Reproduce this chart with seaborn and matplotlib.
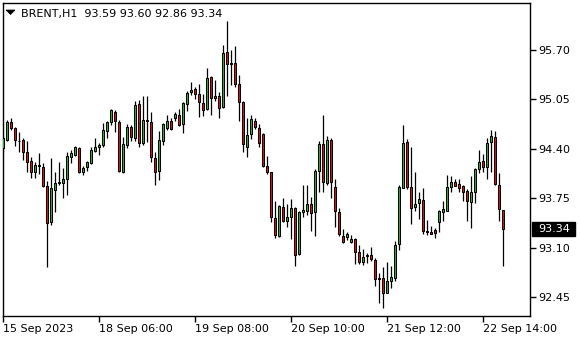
import numpy as np
import pandas as pd
import matplotlib
matplotlib.use("Agg")
import matplotlib.pyplot as plt
from matplotlib.patches import Polygon, Rectangle
import seaborn as sns

# ---------------- data (BRENT, H1) ----------------
opens = [94.41,94.52,94.75,94.67,94.51,94.52,94.36,94.24,94.09,94.19,
         94.16,93.91,93.44,93.86,93.95,93.95,94.00,94.29,94.32,94.41,
         94.09,94.16,94.21,94.37,94.42,94.45,94.63,94.75,94.88,94.75,
         94.09,94.45,94.69,94.54,94.99,94.48,94.78,94.75,94.28,94.11,
         94.50,94.67,94.77,94.81,94.85,94.73,94.99,95.15,95.19,95.12,
         95.00,94.92,95.35,95.07,95.09,94.95,95.67,95.52,95.53,95.25,
         95.02,94.42,94.60,94.77,94.67,94.60,94.18,94.09,93.49,93.25,
         93.63,93.45,93.50,93.62,93.02,93.57,93.58,93.67,93.57,94.11,
         94.46,93.95,94.52,93.90,93.57,93.25,93.24,93.17,93.21,93.04,
         92.91,92.99,93.00,92.94,92.70,92.70,92.50,92.66,92.70,93.15,
         93.88,94.49,93.90,93.63,93.69,93.73,93.32,93.30,93.33,93.44,
         93.57,93.58,93.90,93.96,93.94,93.91,93.85,93.70,93.83,94.14,
         94.24,94.16,94.49,94.56,93.92,93.59]
highs = [94.57,94.78,94.81,94.69,94.62,94.54,94.50,94.29,94.23,94.35,
         94.21,93.98,94.28,94.09,94.23,94.15,94.36,94.38,94.44,94.42,
         94.18,94.24,94.42,94.54,94.48,94.74,94.77,94.92,94.91,94.78,
         94.56,94.73,94.71,95.03,95.04,95.09,95.09,94.88,94.36,94.63,
         94.74,94.85,94.81,94.88,94.92,95.02,95.16,95.28,95.21,95.25,
         95.12,95.46,95.36,95.31,95.15,95.77,96.08,95.70,95.75,95.37,
         95.03,94.81,94.85,94.81,94.73,94.61,94.31,94.10,93.71,93.66,
         93.75,93.67,93.74,93.63,93.58,93.92,93.92,93.77,94.14,94.50,
         94.85,94.57,94.54,94.00,93.62,93.34,93.31,93.27,93.23,93.14,
         93.08,93.03,93.11,92.96,92.77,92.84,92.91,92.86,93.19,93.92,
         94.71,94.53,94.42,94.09,93.83,93.88,93.46,93.38,93.36,93.59,
         93.71,94.06,94.04,94.00,94.00,93.92,93.87,94.04,94.15,94.38,
         94.33,94.54,94.65,94.63,94.08,93.60]
lows = [94.36,94.50,94.65,94.44,94.36,94.25,94.09,94.02,94.02,94.07,
        93.90,92.84,93.40,93.57,93.92,93.75,93.79,94.21,94.31,94.08,
        94.06,94.11,94.20,94.36,94.32,94.42,94.54,94.71,94.62,94.09,
        94.08,94.41,94.50,94.50,94.42,94.45,94.49,94.23,93.92,93.99,
        94.45,94.65,94.65,94.77,94.70,94.61,94.90,95.11,95.06,94.82,
        94.83,94.91,94.85,95.03,94.81,94.94,95.09,95.24,95.22,94.77,
        94.36,94.29,94.53,94.66,94.42,94.16,94.07,93.44,93.23,93.24,
        93.44,93.37,93.21,92.86,93.00,93.50,93.53,93.32,93.25,93.83,
        93.83,93.92,93.75,93.37,93.25,93.16,93.20,93.16,92.88,92.88,
        92.87,92.90,92.92,92.59,92.37,92.31,92.50,92.57,92.66,93.07,
        93.88,93.87,93.41,93.58,93.48,93.28,93.27,93.28,93.23,93.31,
        93.45,93.58,93.83,93.91,93.83,93.71,93.45,93.36,93.69,94.08,
        94.09,94.00,94.09,93.92,93.45,92.86]
closes = [94.54,94.75,94.67,94.52,94.50,94.36,94.23,94.09,94.19,94.18,
          93.91,93.42,93.88,93.95,93.96,94.00,94.31,94.35,94.42,94.09,
          94.15,94.23,94.38,94.42,94.45,94.65,94.75,94.91,94.77,94.11,
          94.46,94.69,94.56,94.98,94.48,94.78,94.77,94.29,94.09,94.52,
          94.73,94.77,94.66,94.86,94.71,95.00,95.13,95.17,95.12,95.02,
          94.91,95.33,95.07,95.09,94.94,95.66,95.52,95.53,95.25,95.02,
          94.46,94.58,94.79,94.69,94.48,94.18,94.09,93.50,93.27,93.65,
          93.45,93.50,93.62,93.00,93.57,93.59,93.67,93.56,94.11,94.46,
          93.96,94.52,93.96,93.58,93.28,93.17,93.28,93.21,93.04,92.91,
          92.98,93.00,92.95,92.69,92.69,92.50,92.66,92.71,93.14,93.90,
          94.48,93.90,93.62,93.67,93.74,93.32,93.31,93.28,93.29,93.58,
          93.61,93.90,93.96,93.91,93.88,93.83,93.71,93.83,94.14,94.23,
          94.16,94.48,94.57,93.94,93.61,93.34]

tick_index = [0, 24, 48, 72, 96, 120]
tick_labels = ["15 Sep 2023", "18 Sep 06:00", "19 Sep 08:00",
               "20 Sep 10:00", "21 Sep 12:00", "22 Sep 14:00"]
price_ticks = [92.45, 93.10, 93.75, 94.40, 95.05, 95.70]
symbol = "BRENT,H1"
last_price = 93.34

# ---------------- styling ----------------
sns.set_theme(style="ticks")
plt.rcParams["font.family"] = ["DejaVu Sans"]

GREEN = "#2fb02f"
RED = "#e01010"

df = pd.DataFrame({"open": opens, "high": highs, "low": lows, "close": closes})
df["i"] = np.arange(len(df))
df["up"] = df["close"] >= df["open"]
df["bottom"] = df[["open", "close"]].min(axis=1)
df["height"] = (df["close"] - df["open"]).abs().clip(lower=0.004)

W, H = 580, 340
fig = plt.figure(figsize=(W / 100, H / 100), dpi=100)
fig.patch.set_facecolor("white")
L_px, R_px, T_px, B_px = 3, 530, 3, 316
ax = fig.add_axes([L_px / W, 1 - B_px / H, (R_px - L_px) / W, (B_px - T_px) / H])
ax.set_facecolor("white")

# wicks
ax.vlines(df["i"], df["low"], df["high"], color="black", lw=0.9, zorder=2)
# bodies
ax.bar(df["i"], df["height"], bottom=df["bottom"], width=0.6,
       color=np.where(df["up"], GREEN, RED), edgecolor="black",
       linewidth=0.75, zorder=3)

ax.set_xlim(-0.075, 131.7)
ax.set_ylim(92.20, 96.32)

for s in ax.spines.values():
    s.set_visible(True)
    s.set_color("black")
    s.set_linewidth(1.0)

ax.yaxis.tick_right()
ax.set_yticks(price_ticks)
ax.set_yticklabels([f"{v:.2f}" for v in price_ticks])
ax.tick_params(axis="y", which="both", right=True, left=False, direction="out",
               length=4, width=1, pad=2, labelsize=8, colors="black")

ax.set_xticks(tick_index)
ax.set_xticklabels(tick_labels)
for lbl in ax.get_xticklabels():
    lbl.set_ha("left")
ax.tick_params(axis="x", which="both", bottom=True, top=False, direction="out",
               length=4, width=1, pad=2, labelsize=8, colors="black")

# last price box
ytr = ax.get_yaxis_transform()
box_h = 7.0 / 76.0
ax.add_patch(Rectangle((1 + 2 / 527, last_price - box_h), 43 / 527, 2 * box_h,
                       transform=ytr, facecolor="black", edgecolor="black",
                       clip_on=False, zorder=5))
ax.text(1 + 8 / 527, last_price, f"{last_price:.2f}", transform=ytr,
        ha="left", va="center", color="white", fontsize=8, zorder=6, clip_on=False)

# header
fig.text(21 / W, 1 - 16.7 / H,
         f"{symbol}  {opens[-1]:.2f} {highs[-1]:.2f} {lows[-1]:.2f} {closes[-1]:.2f}",
         ha="left", va="baseline", fontsize=8, color="black")
tri = Polygon([[6 / W, 1 - 10 / H], [15 / W, 1 - 10 / H], [10.5 / W, 1 - 14.5 / H]],
              closed=True, transform=fig.transFigure, facecolor="black",
              edgecolor="black", lw=0.5)
fig.patches.append(tri)

fig.savefig("out.png", dpi=100, facecolor="white")
